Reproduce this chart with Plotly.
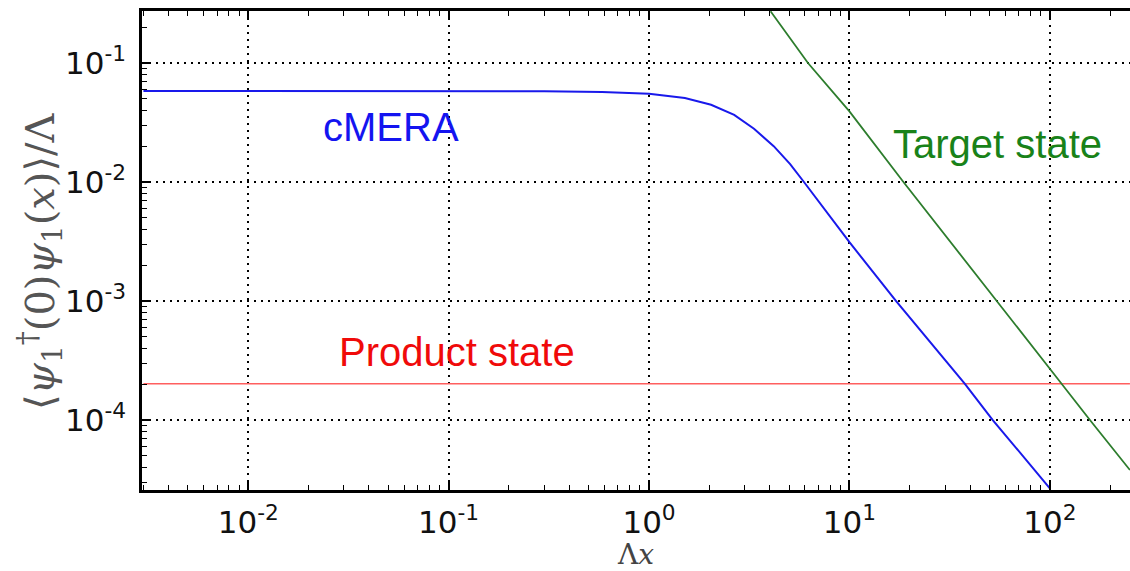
import plotly.graph_objects as go

# ---- data ----
cmera_x = [0.003, 0.03, 0.3, 0.583, 1.0, 1.51, 2.04, 2.66, 3.34, 4.19, 5.06, 5.93, 7.70, 10.0, 17.1, 37.6, 51.9, 100.0]
cmera_y = [0.0582, 0.0582, 0.0580, 0.0572, 0.0551, 0.0507, 0.0446, 0.0367, 0.0280, 0.0200, 0.01415, 0.0100,
           0.00558, 0.00312, 0.00100, 2.02e-4, 1.00e-4, 2.67e-5]

target_x = [4.04, 6.21, 10.0, 18.6, 100.0, 158.5, 251.0]
target_y = [0.272, 0.100, 0.0392, 0.0100, 2.7e-4, 1.0e-4, 3.8e-5]

product_x = [0.003, 251.0]
product_y = [2.02e-4, 2.02e-4]

x_tick_vals = [0.01, 0.1, 1, 10, 100]
x_tick_text = ["10<sup>-2</sup>", "10<sup>-1</sup>", "10<sup>0</sup>", "10<sup>1</sup>", "10<sup>2</sup>"]
y_tick_vals = [1e-4, 1e-3, 1e-2, 1e-1]
y_tick_text = ["10<sup>-4</sup>", "10<sup>-3</sup>", "10<sup>-2</sup>", "10<sup>-1</sup>"]

labels = ["cMERA", "Target state", "Product state"]
y_title = "⟨<i>ψ</i><sub>1</sub><sup>†</sup>(0)<i>ψ</i><sub>1</sub>(<i>x</i>)⟩/Λ"
x_title = "Λ<i>x</i>"

# ---- figure ----
W, H = 1130, 571
ML, MR, MT, MB = 142, 0, 11, 81
PW, PH = W - ML - MR, H - MT - MB


def px_to_paper(px, py):
    return (px - ML) / PW, (H - MB - py) / PH


minor_x = [m * 10.0 ** k for k in range(-3, 3) for m in range(2, 10)]
minor_y = [m * 10.0 ** k for k in range(-5, 0) for m in range(2, 10)]

fig = go.Figure()
fig.add_trace(go.Scatter(x=product_x, y=product_y, mode="lines",
                         line=dict(color="rgb(255,95,95)", width=1.6), showlegend=False))
fig.add_trace(go.Scatter(x=target_x, y=target_y, mode="lines",
                         line=dict(color="rgb(45,125,45)", width=1.8), showlegend=False))
fig.add_trace(go.Scatter(x=cmera_x, y=cmera_y, mode="lines",
                         line=dict(color="rgb(25,25,235)", width=2.0), showlegend=False))

axis_common = dict(
    type="log",
    showline=True, linecolor="black", linewidth=2.5,
    ticks="inside", ticklen=9, tickwidth=1.5, tickcolor="black",
    showgrid=True, gridcolor="black", gridwidth=1.5, griddash="2px,5px",
    zeroline=False,
    tickfont=dict(family="DejaVu Sans", size=31, color="#111"),
    tickmode="array",
)

fig.update_layout(
    width=W, height=H,
    margin=dict(l=ML, r=MR, t=MT, b=MB, autoexpand=False),
    plot_bgcolor="white", paper_bgcolor="white",
    xaxis=dict(axis_common, range=[-2.53, 2.40], tickvals=x_tick_vals, ticktext=x_tick_text,
               mirror="ticks", ticklabelstandoff=3,
               minor=dict(tickmode="array", tickvals=minor_x, ticks="inside", ticklen=5,
                          tickwidth=1, tickcolor="black", showgrid=False),
               title=dict(text=x_title, font=dict(family="DejaVu Serif", size=28, color="#444"),
                          standoff=0)),
    yaxis=dict(axis_common, range=[-4.588, -0.563], tickvals=y_tick_vals, ticktext=y_tick_text,
               mirror=False, ticklabelstandoff=7,
               minor=dict(tickmode="array", tickvals=minor_y, ticks="inside", ticklen=5,
                          tickwidth=1, tickcolor="black", showgrid=False)),
)

# y-axis title as a rotated annotation so that its position can be matched exactly
tx, ty = px_to_paper(40, 261)
fig.add_annotation(x=tx, y=ty, xref="paper", yref="paper", text=y_title, showarrow=False,
                   textangle=-90, xanchor="center", yanchor="middle",
                   font=dict(family="DejaVu Serif", size=40, color="#555"))

ann_specs = [
    (labels[0], 391, 127, "rgb(20,20,240)"),
    (labels[1], 997, 144, "rgb(25,130,25)"),
    (labels[2], 457, 352, "rgb(240,10,10)"),
]
for text, px, py, col in ann_specs:
    ax, ay = px_to_paper(px, py)
    fig.add_annotation(x=ax, y=ay, xref="paper", yref="paper", text=text, showarrow=False,
                       xanchor="center", yanchor="middle",
                       font=dict(family="Liberation Sans, Arial", size=40, color=col))

fig.write_html("out.html", config={"displayModeBar": False},
               post_script="document.body.style.margin='0';document.body.style.overflow='hidden';")
